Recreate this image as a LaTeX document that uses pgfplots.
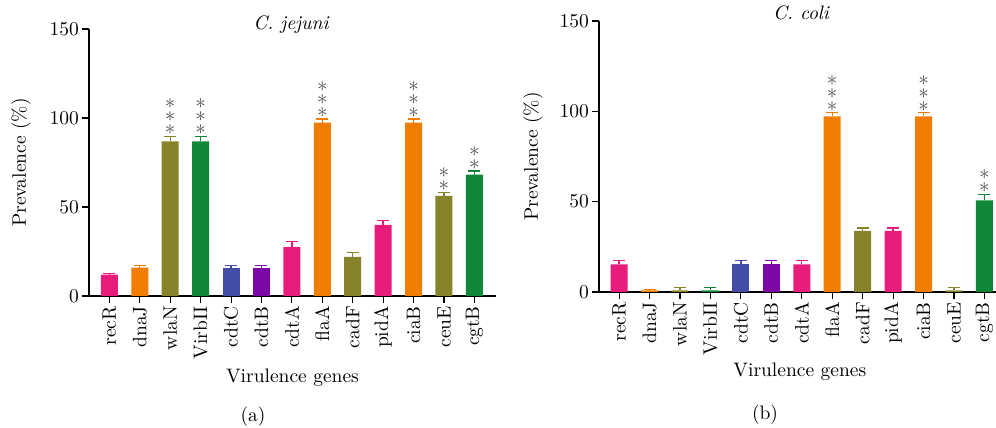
\documentclass[border=0pt]{standalone}
\usepackage{fontspec}
\setmainfont{lmroman10-regular.otf}[ItalicFont=lmroman10-italic.otf, BoldFont=lmroman10-bold.otf]
\usepackage{graphicx}
\usepackage{pgfplots}
\pgfplotsset{compat=1.18}
\definecolor{cpink}{RGB}{232,28,123}
\definecolor{corange}{RGB}{240,125,0}
\definecolor{colive}{RGB}{134,131,42}
\definecolor{cgreen}{RGB}{14,135,56}
\definecolor{cblue}{RGB}{67,77,166}
\definecolor{cpurple}{RGB}{123,8,165}
\definecolor{stargray}{RGB}{80,80,80}
\newcommand{\st}{\scalebox{2.1}{$\ast$}}
\tikzset{
  stars/.style={anchor=south, inner sep=0pt, text=stargray, align=center,
    font=\fontsize{10}{13}\selectfont, yshift=1.5pt},
}
\pgfplotsset{
  myax/.style={
    scale only axis, anchor=south west,
    ymin=0, ymax=150, ytick={0,50,100,150},
    xtick={0,...,12},
    xticklabels={recR,dnaJ,wlaN,VirbII,cdtC,cdtB,cdtA,flaA,cadF,pidA,ciaB,ceuE,cgtB},
    axis x line=bottom, axis y line=left,
    axis line style={-, line width=1.1pt},
    tick style={black, line width=1.1pt},
    major tick length=7pt, tick align=outside,
    /pgf/number format/assume math mode=true,
    font=\fontsize{19.5}{22}\selectfont,
    ticklabel style={font=\fontsize{19.5}{22}\selectfont},
    xticklabel style={rotate=90, anchor=east, inner sep=3pt},
    yticklabel style={inner sep=3pt},
    xlabel={Virulence genes}, ylabel={Prevalence (\%)},
    clip=false,
  },
  mybar/.style={ybar, bar width=17pt, bar shift=0pt, fill=#1, draw=none,
    error bars/.cd, y dir=plus, y explicit,
    error bar style={draw=#1, solid, line width=1.3pt},
    error mark options={draw=#1, rotate=90, mark size=6pt, line width=1.3pt}},
}
\begin{document}
\begin{tikzpicture}
\path[use as bounding box] (0,0) rectangle (996pt,428pt);
% ---------- (a) C. jejuni ----------
\begin{axis}[myax, at={(89pt,132pt)}, width=407pt, height=267pt,
  xmin=-0.67, xmax=12.71,
  xlabel style={at={(axis description cs:0.5,-0.307)}, anchor=center},
  ylabel style={at={(axis description cs:-0.167,0.5)}, anchor=center}]
\addplot[mybar=cpink] coordinates {(0,12) +- (0,0.8) (6,27.6) +- (0,3) (9,40) +- (0,2.5)};
\addplot[mybar=corange] coordinates {(1,16) +- (0,1) (7,97.4) +- (0,2) (10,97.4) +- (0,2)};
\addplot[mybar=colive] coordinates {(2,86.8) +- (0,3) (8,22) +- (0,2.5) (11,56.3) +- (0,2)};
\addplot[mybar=cgreen] coordinates {(3,86.8) +- (0,3) (12,68.2) +- (0,2)};
\addplot[mybar=cblue] coordinates {(4,16) +- (0,1)};
\addplot[mybar=cpurple] coordinates {(5,16) +- (0,1)};
\node[stars] at (axis cs:2,89.8) {\st\\\st\\\st};
\node[stars] at (axis cs:3,89.8) {\st\\\st\\\st};
\node[stars] at (axis cs:7,99.4) {\st\\\st\\\st};
\node[stars] at (axis cs:10,99.4) {\st\\\st\\\st};
\node[stars] at (axis cs:11,58.3) {\st\\\st};
\node[stars] at (axis cs:12,70.2) {\st\\\st};
\end{axis}
% ---------- (b) C. coli ----------
\begin{axis}[myax, at={(599pt,136pt)}, width=397pt, height=271pt,
  xmin=-0.66, xmax=12.38,
  xlabel style={at={(axis description cs:0.506,-0.295)}, anchor=center},
  ylabel style={at={(axis description cs:-0.166,0.5)}, anchor=center}]
\addplot[mybar=cpink] coordinates {(0,15.3) +- (0,2) (6,15.3) +- (0,2) (9,33.8) +- (0,1.6)};
\addplot[mybar=corange] coordinates {(1,0.9) +- (0,0.4) (7,97.2) +- (0,2) (10,97.2) +- (0,2)};
\addplot[mybar=colive] coordinates {(2,0.9) +- (0,1.5) (8,33.8) +- (0,1.6) (11,0.9) +- (0,1.5)};
\addplot[mybar=cgreen] coordinates {(3,0.9) +- (0,1.5) (12,50.7) +- (0,3.2)};
\addplot[mybar=cblue] coordinates {(4,15.3) +- (0,2)};
\addplot[mybar=cpurple] coordinates {(5,15.3) +- (0,2)};
\node[stars] at (axis cs:7,99.2) {\st\\\st\\\st};
\node[stars] at (axis cs:10,99.2) {\st\\\st\\\st};
\node[stars] at (axis cs:12,53.9) {\st\\\st};
\end{axis}
% titles and panel captions
\node[font=\fontsize{19.5}{22}\selectfont\itshape] at (291pt,403pt) {C. jejuni};
\node[font=\fontsize{19.5}{22}\selectfont\itshape] at (801pt,415pt) {C. coli};
\node[font=\fontsize{19.5}{22}\selectfont] at (253pt,11pt) {(a)};
\node[font=\fontsize{19.5}{22}\selectfont] at (765pt,13pt) {(b)};
\end{tikzpicture}
\end{document}
